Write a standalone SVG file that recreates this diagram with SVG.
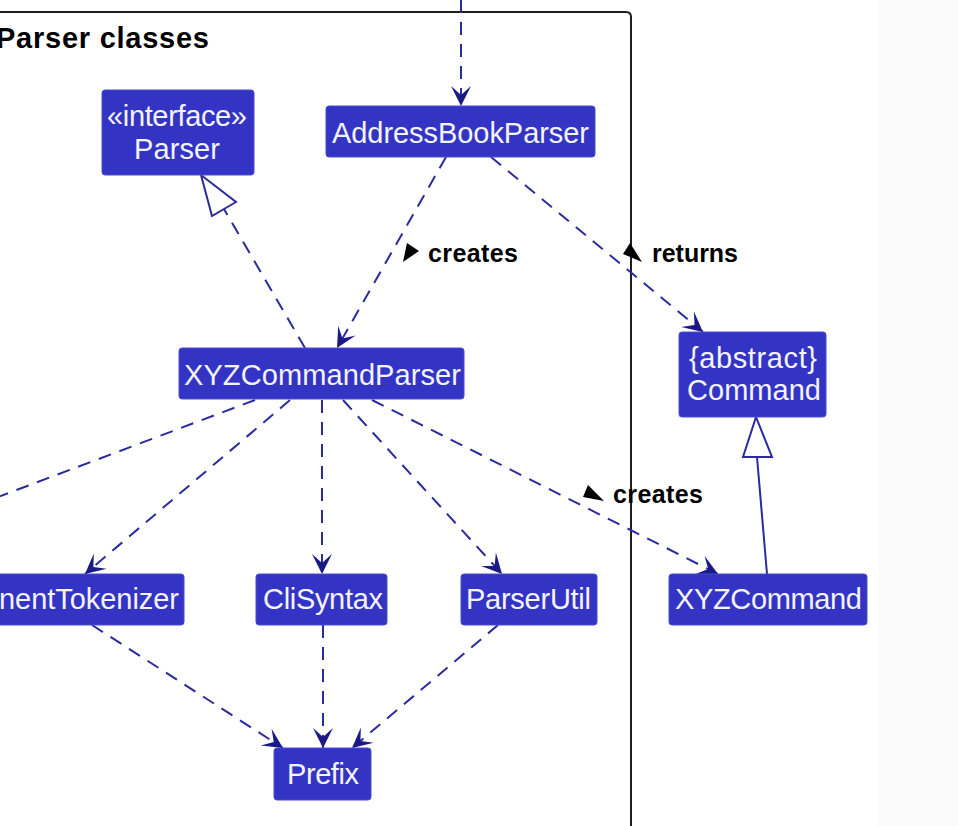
<svg xmlns="http://www.w3.org/2000/svg" width="958" height="826" viewBox="0 0 958 826">
<defs>
<style>
.box{fill:#3434c4;stroke:#4a4ad0;stroke-width:1}
.nt{font-family:"Liberation Sans",Arial,sans-serif;font-size:29px;fill:#f4f4ff;text-anchor:middle}
.lbl{font-family:"Liberation Sans",Arial,sans-serif;font-size:25px;font-weight:bold;fill:#000}
.dep{fill:none;stroke:#2b2b9c;stroke-width:2;stroke-dasharray:13,9}
.sol{fill:none;stroke:#2b2b9c;stroke-width:2}
.tri{fill:#fff;stroke:#2b2b9c;stroke-width:2;stroke-linejoin:miter}
</style>
<marker id="arr" markerUnits="userSpaceOnUse" markerWidth="28" markerHeight="28" viewBox="-24 -14 28 28" refX="0" refY="0" orient="auto">
<path d="M0,0 L-20,-10 L-11,0 L-20,10 Z" fill="#1a1a86"/>
</marker>
</defs>
<rect x="0" y="0" width="958" height="826" fill="#ffffff"/>
<rect x="879" y="0" width="79" height="826" fill="#fbfbfb"/>
<g id="package">
<path d="M-5,12 L626,12 Q631,12 631,17 L631,830" fill="none" stroke="#1e1e1e" stroke-width="2"/>
<text x="-4" y="48" font-family="'Liberation Sans',Arial,sans-serif" font-size="29" font-weight="bold" fill="#000" textLength="213">Parser classes</text>
</g>
<g id="connectors">
<path class="dep" d="M461,0 L461,106" marker-end="url(#arr)"/>
<path class="dep" d="M446,157 L337,348" marker-end="url(#arr)"/>
<path class="dep" d="M491,157 L703,332" marker-end="url(#arr)"/>
<path class="dep" d="M305,348 L224,209"/>
<polygon class="tri" points="201,175 212,216 236,202"/>
<path class="dep" d="M255,400 L-10,500"/>
<path class="dep" d="M290,400 L85,574" marker-end="url(#arr)"/>
<path class="dep" d="M322,400 L322,574" marker-end="url(#arr)"/>
<path class="dep" d="M343,400 L502,574" marker-end="url(#arr)"/>
<path class="dep" d="M372,400 L718,574" marker-end="url(#arr)"/>
<path class="sol" d="M767,574 L757,457"/>
<polygon class="tri" points="756,417 743,457 772,457"/>
<path class="dep" d="M92,625 L283,748" marker-end="url(#arr)"/>
<path class="dep" d="M323,625 L323,748" marker-end="url(#arr)"/>
<path class="dep" d="M498,625 L352,748" marker-end="url(#arr)"/>
<polygon points="407,243 419,251 403,262" fill="#000"/>
<text class="lbl" x="428" y="262" textLength="90">creates</text>
<polygon points="630,243 623,254 642,262" fill="#000"/>
<text class="lbl" x="652" y="262" textLength="86">returns</text>
<polygon points="588,485 583,497 604,501" fill="#000"/>
<text class="lbl" x="613" y="503" textLength="90">creates</text>
</g>
<g id="node-parser">
<rect class="box" x="102" y="90" width="152" height="85" rx="3"/>
<text class="nt" x="177" y="126" textLength="140">«interface»</text>
<text class="nt" x="177" y="159" textLength="86">Parser</text>
</g>
<g id="node-addressbookparser">
<rect class="box" x="326" y="106" width="269" height="51" rx="3"/>
<text class="nt" x="460.5" y="143" textLength="257">AddressBookParser</text>
</g>
<g id="node-xyzcommandparser">
<rect class="box" x="179" y="348" width="285" height="51" rx="3"/>
<text class="nt" x="322.5" y="385" textLength="277">XYZCommandParser</text>
</g>
<g id="node-command">
<rect class="box" x="679" y="332" width="147" height="85" rx="3"/>
<text class="nt" x="753" y="368" textLength="128">{abstract}</text>
<text class="nt" x="754" y="400" textLength="134">Command</text>
</g>
<g id="node-argumenttokenizer">
<rect class="box" x="-10" y="574" width="194" height="51" rx="3"/>
<text class="nt" x="89" y="609" textLength="180">nentTokenizer</text>
</g>
<g id="node-clisyntax">
<rect class="box" x="256" y="574" width="131" height="51" rx="3"/>
<text class="nt" x="323" y="609" textLength="120">CliSyntax</text>
</g>
<g id="node-parserutil">
<rect class="box" x="461" y="574" width="136" height="51" rx="3"/>
<text class="nt" x="528.5" y="609" textLength="125">ParserUtil</text>
</g>
<g id="node-xyzcommand">
<rect class="box" x="669" y="574" width="198" height="51" rx="3"/>
<text class="nt" x="768.5" y="609" textLength="187">XYZCommand</text>
</g>
<g id="node-prefix">
<rect class="box" x="274" y="748" width="97" height="52" rx="3"/>
<text class="nt" x="323" y="784" textLength="72">Prefix</text>
</g>
</svg>
